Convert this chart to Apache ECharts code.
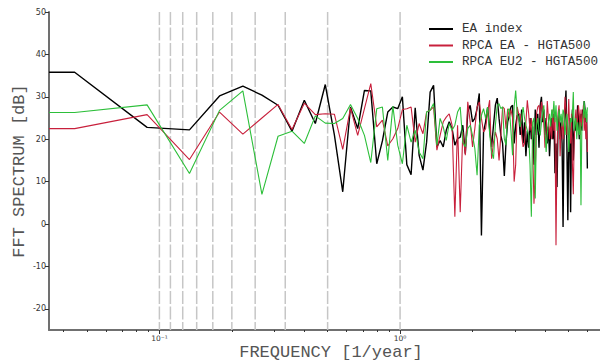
<!DOCTYPE html>
<html>
<head>
<meta charset="utf-8">
<script src="https://cdn.jsdelivr.net/npm/echarts@6/dist/echarts.min.js"></script>
<style>
  html, body { margin: 0; padding: 0; background: #fff; }
  #chart { width: 600px; height: 363px; }
</style>
</head>
<body>
<div id="chart"></div>
<script>
// FFT frequency grid of a monthly record (cycles per year), bins 1..135
const RECORD_MONTHS = 270;
const N_BINS = 135;
const frequency = [];
for (let k = 1; k <= N_BINS; k++) frequency.push(k * 12 / RECORD_MONTHS);

// Spectra in dB, one value per frequency bin
const eaIndex = [
  35.8, 22.8, 22.2, 30.2, 32.5, 30.4, 28.0, 21.9, 29.2, 23.7,
  32.9, 21.0, 7.6, 27.6, 22.5, 31.5, 31.4, 14.2, 19.6, 26.4,
  27.6, 27.2, 30.0, 14.0, 11.6, 27.4, 16.2, 12.7, 19.3, 31.1,
  32.7, 18.2, 19.7, 18.2, 22.1, 24.1, 22.5, 18.6, 20.1, 20.5,
  23.3, 16.6, 26.4, 28.0, 24.1, 24.9, 27.2, 30.8, -2.7, 21.7,
  24.1, 27.6, 22.5, 18.2, 23.3, 28.0, 29.7, 24.9, 20.9, 19.0,
  11.3, 19.3, 24.1, 25.6, 27.6, 28.0, 19.0, 23.3, 25.6, 26.0,
  21.0, 27.0, 19.0, 24.0, 16.0, 22.0, 18.0, 25.0, 20.0, 23.0,
  14.0, 27.0, 21.0, 26.0, 18.0, 28.0, 30.0, 24.0, 27.0, 21.0,
  25.0, 19.0, 23.0, 16.0, 22.0, 25.0, 20.0, 26.0, 12.0, 19.0,
  8.7, 24.0, 27.0, 20.0, 24.0, 19.0, -0.7, 22.0, 26.0, 31.5,
  18.0, 0.9, 20.0, 25.0, 2.8, 22.0, 27.0, 15.0, 21.0, 24.0,
  22.0, 23.0, 28.0, 25.0, 20.0, 24.0, 26.0, 22.0, 27.0, 25.0,
  29.0, 27.0, 24.0, 26.0, 13.1
];
const rpcaEA = [
  22.5, 25.8, 15.2, 26.4, 21.2, 25.0, 28.2, 22.3, 28.5, 25.8,
  26.0, 25.9, 17.6, 27.4, 20.9, 27.2, 33.1, 22.9, 24.5, 18.4,
  20.1, 22.5, 27.0, 27.2, 27.6, 19.3, 23.7, 21.3, 26.4, 26.8,
  27.6, 17.4, 20.9, 24.1, 25.2, 26.0, 23.3, 1.7, 23.3, 2.8,
  21.7, 16.2, 28.8, 24.1, 18.2, 22.5, 27.6, 28.8, 24.9, 21.7,
  22.5, 26.4, 29.2, 15.4, 19.3, 21.7, 20.1, 15.0, 20.9, 27.6,
  27.2, 22.5, 27.2, 24.9, 27.0, 25.0, 10.0, 14.0, 27.6, 26.0,
  25.9, 21.0, 18.2, 19.0, 24.0, 29.2, 26.0, 22.0, 25.0, 18.0,
  4.8, 12.0, 26.0, 27.6, 28.0, 25.0, 28.8, 27.0, 24.0, 18.0,
  22.0, 29.0, 25.0, 20.0, 24.0, 20.0, 27.0, 22.0, 25.0, -5.0,
  18.0, 26.0, 28.0, 16.0, 22.0, 25.0, 20.0, 24.0, 30.0, 27.0,
  21.0, 24.0, 29.5, 22.0, 19.0, 26.0, 14.0, 7.0, 20.0, 24.0,
  27.0, 22.0, 25.0, 28.0, 26.0, 21.0, 27.0, 23.0, 25.0, 28.0,
  22.0, 26.0, 20.0, 24.0, 17.0
];
const rpcaEU2 = [
  26.3, 28.1, 11.9, 26.8, 31.4, 7.0, 20.7, 21.9, 19.0, 25.5,
  23.8, 23.7, 24.9, 28.2, 24.9, 20.9, 14.5, 27.2, 27.6, 15.0,
  27.8, 18.6, 14.2, 23.3, 19.3, 22.1, 17.0, 15.4, 26.4, 26.8,
  28.4, 18.6, 24.9, 22.9, 19.7, 23.7, 22.1, 23.3, 26.4, 27.6,
  19.3, 18.2, 22.5, 23.3, 20.9, 17.8, 11.5, 23.3, 25.6, 27.2,
  24.9, 27.6, 21.3, 17.0, 15.4, 23.3, 28.0, 28.4, 27.2, 27.6,
  20.1, 18.6, 26.8, 27.2, 22.0, 16.2, 27.6, 31.5, 26.0, 24.9,
  22.9, 25.0, 27.6, 25.0, 23.3, 22.0, 20.9, 14.0, 1.7, 24.0,
  25.0, 6.0, 23.3, 25.0, 22.0, 20.9, 24.0, 26.4, 28.0, 22.0,
  17.0, 21.0, 24.0, 26.0, 23.0, 27.0, 25.0, 29.0, 24.0, 28.0,
  22.0, 25.0, 27.0, 24.0, 26.0, 23.0, 27.0, 26.0, 21.0, 24.0,
  26.0, 23.0, 17.0, 22.0, 25.0, 24.0, 26.0, 31.1, 22.0, 24.0,
  25.0, 20.0, 24.0, 22.0, 21.0, 24.0, 4.4, 22.0, 24.0, 26.0,
  29.0, 25.0, 27.0, 24.0, 27.5
];

// Reference periods (years) marked with dashed verticals
const periodsYears = [10, 9, 8, 7, 6, 5, 4, 3, 2, 1];
// Axis ticks
const xMajorTicks = [0.1, 1];
const xMinorTicks = [0.04, 0.05, 0.06, 0.07, 0.08, 0.09,
                     0.2, 0.3, 0.4, 0.5, 0.6, 0.7, 0.8, 0.9,
                     2, 3, 4, 5, 6, 7];
const yTicks = [-20, -10, 0, 10, 20, 30, 40, 50];
const Y_MIN = -25, Y_MAX = 50;

const seriesNames = ['EA index', 'RPCA EA - HGTA500', 'RPCA EU2 - HGTA500'];
const seriesColors = ['#000000', '#c8203c', '#2dbf3a'];
const seriesValues = [eaIndex, rpcaEA, rpcaEU2];

// 5% padding on each side in log space
const fLo = frequency[0], fHi = frequency[frequency.length - 1];
const logSpan = Math.log10(fHi / fLo);
const X_MIN = fLo * Math.pow(10, -0.05 * logSpan);
const X_MAX = fHi * Math.pow(10, 0.05 * logSpan);

const MONO = "'Liberation Mono', 'Courier New', monospace";
const SANS = "'DejaVu Sans', sans-serif";
const AXIS_GREY = '#707070';

function toPairs(vals) {
  // hold the lowest bin out to the left edge of the log axis
  const pts = [[X_MIN, vals[0]]];
  frequency.forEach((f, i) => pts.push([f, vals[i]]));
  return pts;
}

const supDigits = { '-': '\u207B', '0': '\u2070', '1': '\u00B9' };

const chart = echarts.init(document.getElementById('chart'), null, { renderer: 'svg' });

const lineSeries = seriesValues.map((vals, i) => ({
  name: seriesNames[i],
  type: 'line',
  xAxisIndex: 0,
  yAxisIndex: 0,
  data: toPairs(vals),
  symbol: 'none',
  z: 3 + i,
  lineStyle: { color: seriesColors[i], width: i === 0 ? 1.4 : 1.1 },
  itemStyle: { color: seriesColors[i] },
  emphasis: { disabled: true },
  animation: false
}));

const periodSeries = {
  type: 'custom',
  xAxisIndex: 0,
  yAxisIndex: 0,
  silent: true,
  z: 1,
  animation: false,
  data: periodsYears.map(p => [1 / p, 0]),
  renderItem: (params, api) => {
    const x = api.coord([api.value(0), 0])[0];
    const cs = params.coordSys;
    return {
      type: 'line',
      shape: { x1: x, y1: cs.y, x2: x, y2: cs.y + cs.height },
      style: { stroke: '#c6c6c6', lineWidth: 1.5, lineDash: [13, 2.5] }
    };
  }
};

chart.setOption({
  backgroundColor: '#ffffff',
  animation: false,
  grid: { left: 49, top: 12, bottom: 33, width: 564, containLabel: false, outerBoundsMode: 'none' },
  legend: {
    data: seriesNames,
    orient: 'vertical',
    left: 429,
    top: 22.5,
    padding: 0,
    itemWidth: 24,
    itemHeight: 14,
    itemGap: 3.5,
    icon: 'path://M0,6 L24,6 L24,8 L0,8 Z',
    textStyle: { fontFamily: MONO, fontSize: 12.6, color: '#333', padding: [0, 0, 0, 4] },
    selectedMode: false
  },
  xAxis: [
    {
      type: 'log',
      logBase: 10,
      min: X_MIN,
      max: X_MAX,
      position: 'bottom',
      name: 'FREQUENCY [1/year]',
      nameLocation: 'middle',
      nameGap: 14,
      nameMoveOverlap: false,
      nameTextStyle: { fontFamily: MONO, fontSize: 17, color: '#555' },
      axisLine: { show: true, onZero: false, lineStyle: { color: AXIS_GREY, width: 2 } },
      axisTick: { show: true, customValues: xMajorTicks, length: 4, lineStyle: { color: '#333', width: 1 } },
      axisLabel: {
        show: true,
        customValues: xMajorTicks,
        margin: 4,
        formatter: (v) => {
          const e = Math.round(Math.log10(v));
          const sup = String(e).split('').map(c => supDigits[c] || c).join('');
          return '10' + sup;
        },
        fontFamily: SANS,
        fontSize: 7.5,
        color: '#333'
      },
      splitLine: { show: false },
      minorTick: { show: false }
    },
    {
      type: 'log',
      logBase: 10,
      min: X_MIN,
      max: X_MAX,
      position: 'bottom',
      gridIndex: 0,
      axisLine: { show: false, onZero: false },
      axisTick: { show: true, customValues: xMinorTicks, length: 2, lineStyle: { color: '#333', width: 1 } },
      axisLabel: { show: false },
      splitLine: { show: false }
    }
  ],
  yAxis: {
    type: 'value',
    min: Y_MIN,
    max: Y_MAX,
    name: 'FFT SPECTRUM [dB]',
    nameLocation: 'middle',
    nameGap: 21,
    nameMoveOverlap: false,
    nameRotate: 90,
    nameTextStyle: { fontFamily: MONO, fontSize: 17, color: '#555' },
    axisLine: { show: true, onZero: false, lineStyle: { color: AXIS_GREY, width: 2 } },
    axisTick: { show: true, customValues: yTicks, length: 4, lineStyle: { color: '#333', width: 1 } },
    axisLabel: { show: true, customValues: yTicks, margin: 3, fontFamily: SANS, fontSize: 8, color: '#333' },
    splitLine: { show: false }
  },
  series: [periodSeries].concat(lineSeries)
});
</script>
</body>
</html>
